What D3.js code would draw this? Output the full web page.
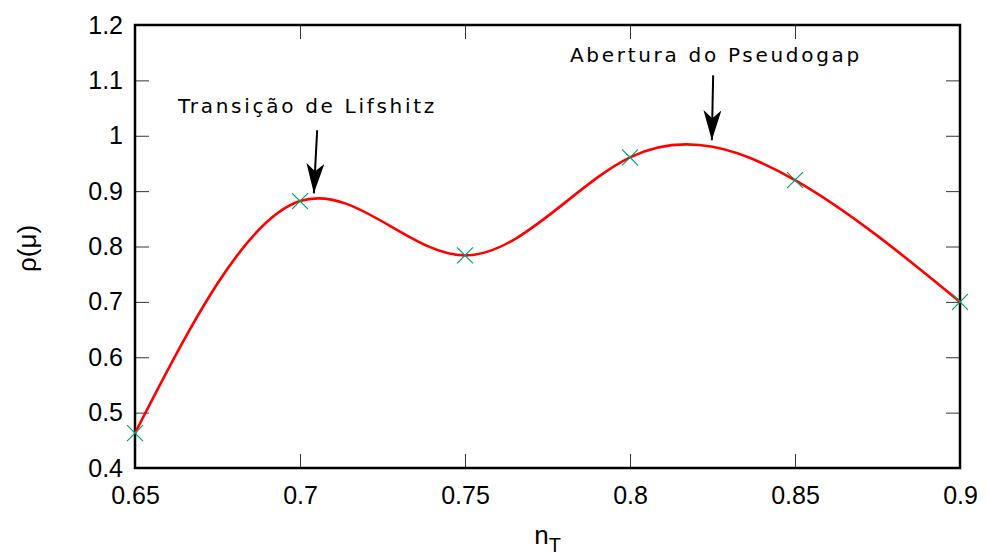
<!DOCTYPE html>
<html lang="pt">
<head>
  <meta charset="UTF-8">
  <title>rho(mu) vs nT</title>
  <style>
    body { margin: 0; background: #fff; }
    svg { display: block; }
  </style>
</head>
<body>
  <svg id="chart" width="988" height="557"></svg>
  <script src="https://cdn.jsdelivr.net/npm/d3@7/dist/d3.min.js"></script>
  <script>
    // data
    var nT = [0.65, 0.70, 0.75, 0.80, 0.85, 0.90];
    var rho = [0.463, 0.882, 0.784, 0.961, 0.920, 0.700];
    var xTicks = [0.65, 0.7, 0.75, 0.8, 0.85, 0.9];
    var yTicks = [0.4, 0.5, 0.6, 0.7, 0.8, 0.9, 1.0, 1.1, 1.2];
    // annotations: label, text anchor (x,y), arrow from (x,y) to (x,y), in data units
    var notes = [
      { text: "Transição de Lifshitz", tx: 0.6630, ty: 1.041, x1: 0.7052, y1: 1.010, x2: 0.7042, y2: 0.896 },
      { text: "Abertura do Pseudogap", tx: 0.7818, ty: 1.133, x1: 0.8252, y1: 1.109, x2: 0.8248, y2: 0.992 }
    ];

    var svg = d3.select("#chart"),
      margin = { left: 135, right: 28, top: 25, bottom: 89 },
      width = +svg.attr("width") - margin.left - margin.right,
      height = +svg.attr("height") - margin.top - margin.bottom;

    var x = d3.scaleLinear().domain([0.65, 0.9]).range([0, width]),
      y = d3.scaleLinear().domain([0.4, 1.2]).range([height, 0]);

    var g = svg.append("g").attr("transform", "translate(" + margin.left + "," + margin.top + ")");

    var tickLen = 14;
    var fmt = function (d) { return String(+d.toFixed(2)); };

    // bottom + left axes with labels, ticks pointing inside
    var xAxis = g.append("g").attr("transform", "translate(0," + height + ")")
      .call(d3.axisBottom(x).tickValues(xTicks).tickFormat(fmt).tickSizeInner(-tickLen).tickSizeOuter(0).tickPadding(18));
    var yAxis = g.append("g")
      .call(d3.axisLeft(y).tickValues(yTicks).tickFormat(fmt).tickSizeInner(-tickLen).tickSizeOuter(0).tickPadding(12));
    // top + right mirror ticks
    var xTop = g.append("g")
      .call(d3.axisTop(x).tickValues(xTicks).tickFormat("").tickSizeInner(-tickLen).tickSizeOuter(0));
    var yRight = g.append("g").attr("transform", "translate(" + width + ",0)")
      .call(d3.axisRight(y).tickValues(yTicks).tickFormat("").tickSizeInner(-tickLen).tickSizeOuter(0));

    [xAxis, yAxis, xTop, yRight].forEach(function (a) {
      a.select(".domain").remove();
      a.selectAll(".tick line").attr("stroke", "#333").attr("stroke-width", 1);
      a.selectAll(".tick text")
        .attr("fill", "#000")
        .style("font-family", "'Liberation Sans', Arial, sans-serif")
        .style("font-size", "25px");
    });

    // frame
    g.append("rect")
      .attr("x", 0).attr("y", 0)
      .attr("width", width).attr("height", height)
      .attr("fill", "none").attr("stroke", "#000").attr("stroke-width", 2.5);

    // smooth curve through the points
    var line = d3.line()
      .x(function (d, i) { return x(nT[i]); })
      .y(function (d) { return y(d); })
      .curve(d3.curveNatural);

    g.append("path")
      .datum(rho)
      .attr("d", line)
      .attr("fill", "none")
      .attr("stroke", "#ff0000")
      .attr("stroke-width", 2.6);

    // x markers
    var m = 8;
    var marks = g.selectAll(".mark").data(rho).enter().append("g")
      .attr("class", "mark")
      .attr("transform", function (d, i) { return "translate(" + x(nT[i]) + "," + y(d) + ")"; });
    marks.append("path")
      .attr("d", "M" + (-m) + "," + (-m) + "L" + m + "," + m + "M" + (-m) + "," + m + "L" + m + "," + (-m))
      .attr("stroke", "#009e73")
      .attr("stroke-width", 1.2)
      .attr("fill", "none");

    // arrows
    svg.append("defs").append("marker")
      .attr("id", "head")
      .attr("viewBox", "0 0 30 18")
      .attr("refX", 30).attr("refY", 9)
      .attr("markerWidth", 30).attr("markerHeight", 18)
      .attr("markerUnits", "userSpaceOnUse")
      .attr("orient", "auto")
      .append("path")
      .attr("d", "M0,0L30,9L0,18L8,9Z")
      .attr("fill", "#000");

    notes.forEach(function (n) {
      g.append("line")
        .attr("x1", x(n.x1)).attr("y1", y(n.y1))
        .attr("x2", x(n.x2)).attr("y2", y(n.y2))
        .attr("stroke", "#000").attr("stroke-width", 2)
        .attr("marker-end", "url(#head)");
      g.append("text")
        .attr("x", x(n.tx)).attr("y", y(n.ty))
        .style("font-family", "'DejaVu Sans', sans-serif")
        .style("font-size", "20px")
        .style("letter-spacing", "2.7px")
        .attr("fill", "#000")
        .text(n.text);
    });

    // axis titles
    svg.append("text")
      .attr("transform", "translate(36," + (margin.top + height / 2 + 2) + ") rotate(-90)")
      .attr("text-anchor", "middle")
      .style("font-family", "'Liberation Sans', Arial, sans-serif")
      .style("font-size", "26px")
      .text("ρ(μ)");

    var xt = svg.append("text")
      .attr("x", margin.left + width / 2 + 0)
      .attr("y", 544)
      .attr("text-anchor", "middle")
      .style("font-family", "'Liberation Sans', Arial, sans-serif")
      .style("font-size", "26px");
    xt.append("tspan").text("n");
    xt.append("tspan").attr("dy", 8).style("font-size", "20px").text("T");
  </script>
</body>
</html>
